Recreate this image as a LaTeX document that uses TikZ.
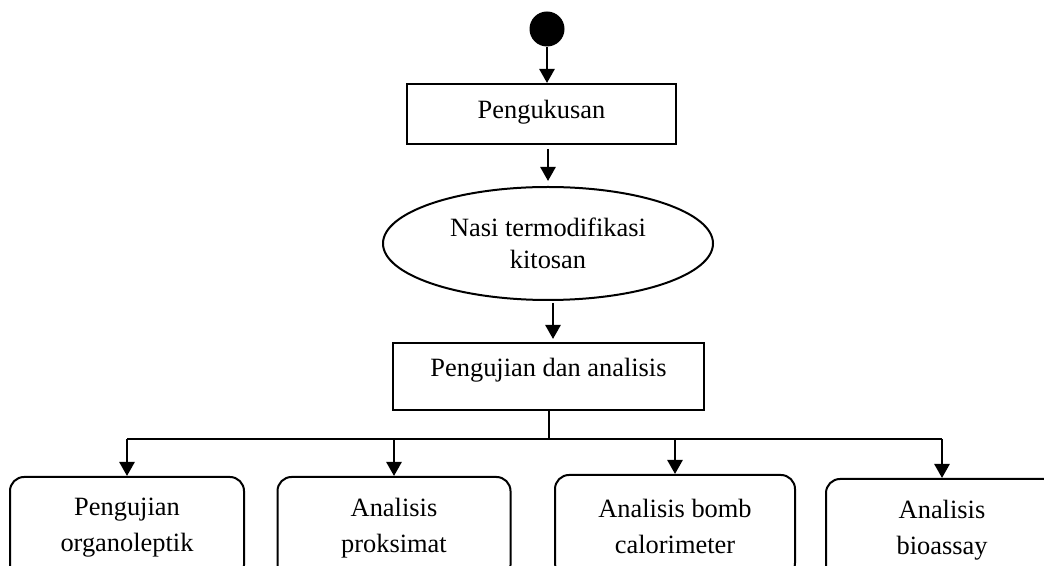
\documentclass[tikz,border=0pt]{standalone}
\usepackage{fontspec}
\setmainfont{Liberation Serif}
\usetikzlibrary{arrows.meta,shapes.geometric}
\begin{document}
\begin{tikzpicture}[x=0.5pt,y=-0.5pt,line width=1pt,
    font=\fontsize{13.2}{18}\selectfont,
    box/.style={draw,rectangle,align=center,inner xsep=0pt,inner ysep=0pt},
    oval/.style={draw,ellipse,align=center,inner sep=0pt,font=\fontsize{13.2}{16}\selectfont},
    roundbox/.style={draw,rounded corners=7pt,align=center,inner sep=0pt,minimum height=51pt},
    flow/.style={-{Triangle[width=7.5pt,length=7pt]},line width=1.3pt}]
  \clip (0,0) rectangle (1044,566);
  \draw
    (547,29) node[circle,fill,inner sep=0pt,minimum size=17.5pt] (start){}
    (541.5,114) node[box,minimum width=134.5pt,text height=17.5pt,text depth=12.5pt] (steam){Pengukusan}
    (548,243.5) node[oval,minimum width=165pt,minimum height=56.5pt] (rice){Nasi termodifikasi\\kitosan}
    (548.5,376.5) node[box,minimum width=155.5pt,text height=17pt,text depth=16.5pt] (test){Pengujian dan analisis}
    (127,528) node[roundbox,minimum width=117pt] (organo){Pengujian\\organoleptik}
    (394,528) node[roundbox,minimum width=116.5pt] (proxi){Analisis\\proksimat}
    (675,526) node[roundbox,minimum width=120pt] (bomb){Analisis bomb\\calorimeter}
    (942,530) node[roundbox,minimum width=116pt] (bio){Analisis\\bioassay};
  \coordinate (bus) at (548.5,439);
  \begin{scope}[flow]
    \draw (start.south) -- (start.south |- steam.north);
    \draw[shorten <=2pt,shorten >=2.5pt] (rice.north |- steam.south) -- (rice.north);
    \draw[shorten <=1pt,shorten >=1.5pt] ([xshift=2.5pt]rice.south) -- ([xshift=2.5pt]rice.south |- test.north);
    \draw (organo.north |- bus) -- (organo.north);
    \draw (proxi.north |- bus) -- (proxi.north);
    \draw (bomb.north |- bus) -- (bomb.north);
    \draw (bio.north |- bus) -- (bio.north);
  \end{scope}
  \draw (test.south) -- (bus);
  \draw (organo.north |- bus) -- (bio.north |- bus);
\end{tikzpicture}
\end{document}
